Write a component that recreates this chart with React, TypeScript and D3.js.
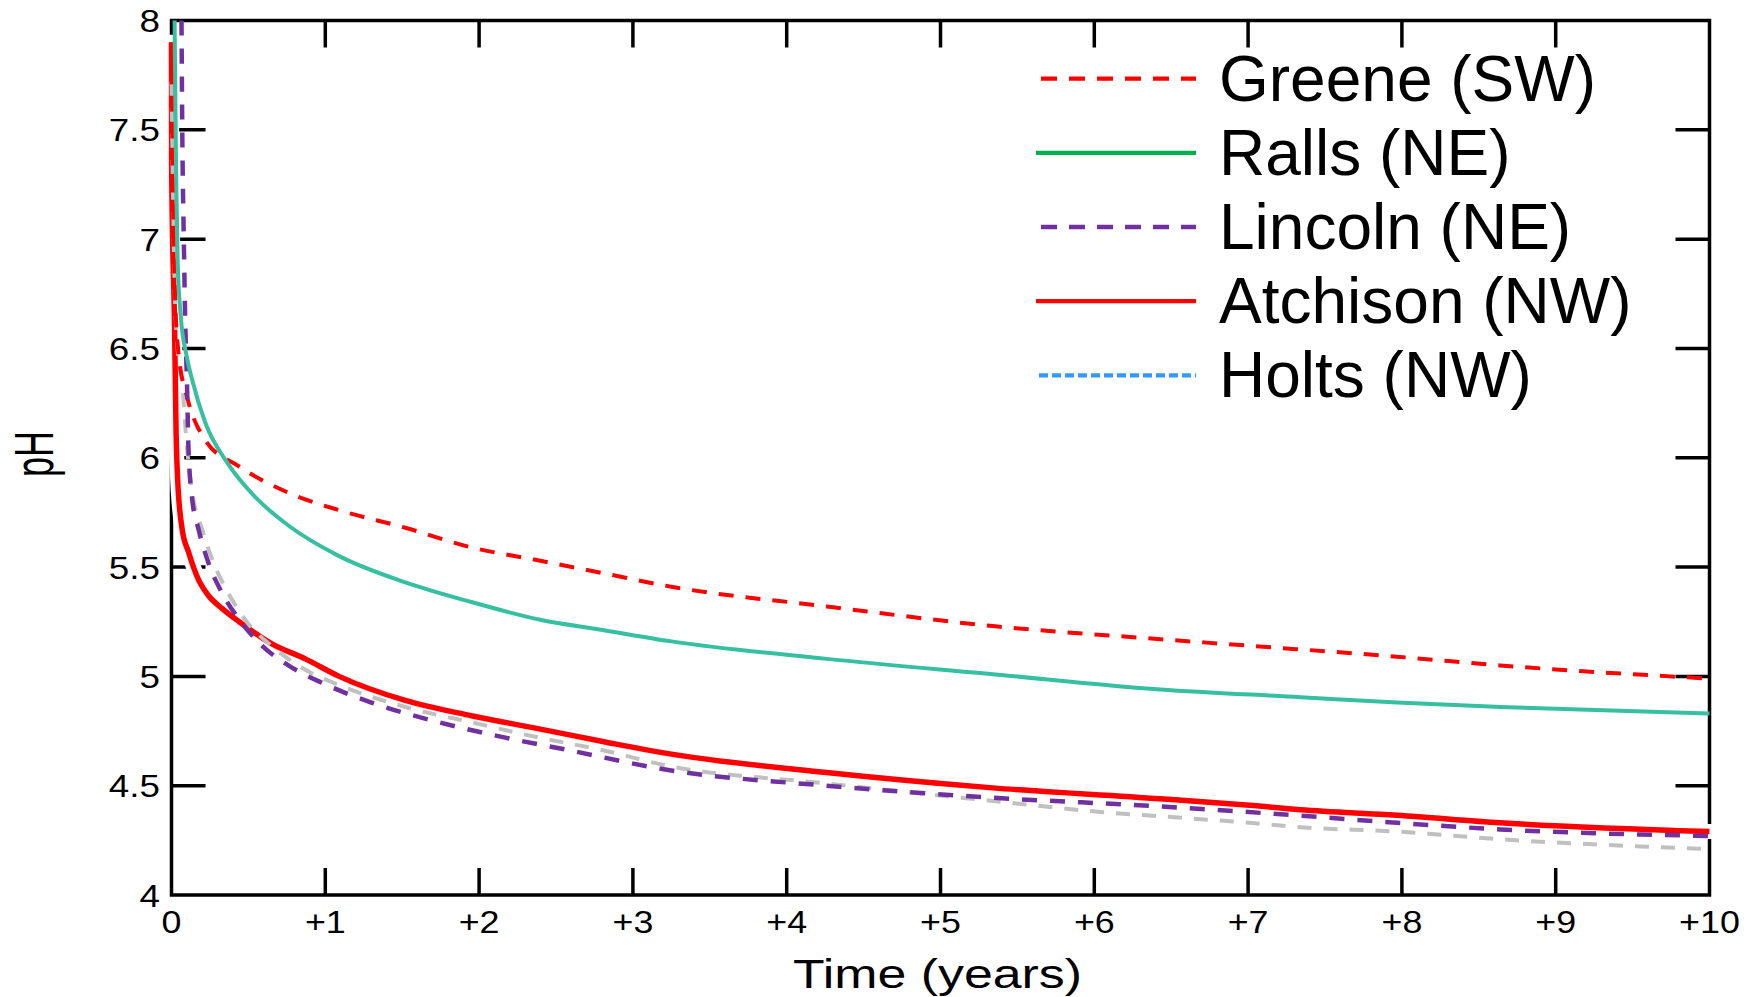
import * as d3 from "d3";

type Pt = [number, number];

// pH readings per county, [years, pH]
const greene: Pt[] = [
  [0, 7.9], [0.01, 7.2], [0.025, 6.7], [0.05, 6.45], [0.09, 6.31], [0.22, 6.08],
  [0.44, 5.96], [0.76, 5.84], [1.09, 5.76], [1.52, 5.68], [1.95, 5.59], [2.39, 5.53],
  [2.82, 5.47], [3.25, 5.41], [4.26, 5.32], [5.34, 5.23], [6.43, 5.17], [7.01, 5.14],
  [7.97, 5.09], [8.64, 5.05], [10, 4.99],
];

const ralls: Pt[] = [
  [0.02, 8.0], [0.03, 7.3], [0.04, 6.9], [0.06, 6.65], [0.1, 6.46], [0.133, 6.36],
  [0.22, 6.16], [0.37, 5.97], [0.545, 5.82], [0.76, 5.69], [1.09, 5.55], [1.52, 5.43],
  [1.95, 5.34], [2.39, 5.26], [2.82, 5.21], [3.25, 5.16], [4.26, 5.08], [5.34, 5.01],
  [6.43, 4.94], [7.34, 4.905], [7.97, 4.88], [8.64, 4.86], [10, 4.83],
];

const lincoln: Pt[] = [
  [0.065, 8.0], [0.07, 7.5], [0.08, 7.0], [0.09, 6.6], [0.1, 6.36], [0.11, 6.05],
  [0.133, 5.82], [0.177, 5.67], [0.24, 5.52], [0.33, 5.38], [0.44, 5.26], [0.59, 5.14],
  [0.76, 5.05], [0.98, 4.97], [1.3, 4.88], [1.74, 4.79], [2.17, 4.72], [2.6, 4.66],
  [3.2, 4.575], [4.26, 4.5], [5.34, 4.445], [6.43, 4.405], [7.4, 4.36], [7.97, 4.33],
  [8.64, 4.3], [10, 4.27],
];

const atchison: Pt[] = [
  [0, 7.9], [0.001, 7.32], [0.02, 6.6], [0.03, 6.11], [0.04, 5.9], [0.07, 5.67],
  [0.11, 5.57], [0.177, 5.44], [0.24, 5.37], [0.33, 5.31], [0.44, 5.25], [0.65, 5.15],
  [0.87, 5.08], [1.09, 5.0], [1.52, 4.89], [1.95, 4.82], [2.39, 4.76], [2.82, 4.7],
  [3.2, 4.65], [4.26, 4.56], [5.34, 4.49], [6.43, 4.44], [7.01, 4.41],
  [7.34, 4.39], [7.97, 4.365], [8.64, 4.33], [10, 4.29],
];

// grey dashed curve drawn in the plot (no legend entry)
const greyCurve: Pt[] = [
  [0, 7.72], [0.01, 7.2], [0.02, 6.8], [0.04, 6.5], [0.068, 6.355], [0.1, 6.05],
  [0.133, 5.85], [0.2, 5.67], [0.285, 5.5], [0.37, 5.38], [0.5, 5.24], [0.65, 5.14],
  [0.87, 5.03], [1.09, 4.96], [1.52, 4.86], [1.95, 4.79], [2.39, 4.72], [2.82, 4.66],
  [3.2, 4.595], [4.26, 4.51], [5.34, 4.43], [6.04, 4.38], [6.43, 4.36], [7.01, 4.33],
  [7.34, 4.31], [7.97, 4.29], [8.64, 4.255], [10, 4.21],
];

const xTickValues = [0, 1, 2, 3, 4, 5, 6, 7, 8, 9, 10];
const xTickLabels = ["0", "+1", "+2", "+3", "+4", "+5", "+6", "+7", "+8", "+9", "+10"];
const yTickValues = [4, 4.5, 5, 5.5, 6, 6.5, 7, 7.5, 8];
const yTickLabels = ["4", "4.5", "5", "5.5", "6", "6.5", "7", "7.5", "8"];

const legendNames = ["Greene (SW)", "Ralls (NE)", "Lincoln (NE)", "Atchison (NW)", "Holts (NW)"];
const legendColors = ["#ff0000", "#00b050", "#7030a0", "#ff0000", "#3399ff"];
const legendDashes = ["16 12", null, "16 12", null, "9 4"];

const W = 1756;
const H = 997;
const box = { left: 171.5, right: 1709.5, top: 20.5, bottom: 895 };
const FONT = "'Liberation Sans', Arial, sans-serif";

export default function App() {
  const x = d3.scaleLinear().domain([0, 10]).range([box.left, box.right]);
  const y = d3.scaleLinear().domain([4, 8]).range([box.bottom, box.top]);

  const smooth = d3.line<Pt>().x((d) => x(d[0])).y((d) => y(d[1])).curve(d3.curveMonotoneX);

  // order = drawing order (atchison sits under the others)
  const series = [
    { key: "atchison", d: smooth(atchison), color: "#ff0000", width: 5.5, dash: undefined },
    { key: "grey", d: smooth(greyCurve), color: "#c0c0c0", width: 4, dash: "14 12" },
    { key: "greene", d: smooth(greene), color: "#ff0000", width: 4, dash: "15 12" },
    { key: "lincoln", d: smooth(lincoln), color: "#7030a0", width: 4.5, dash: "15 13" },
    { key: "ralls", d: smooth(ralls), color: "#36bfa0", width: 4, dash: undefined },
  ];

  const innerTicksX = xTickValues.slice(1, -1);
  const innerTicksY = yTickValues.slice(1, -1);

  return (
    <div>
      <style>{"body{margin:0;background:#fff}"}</style>
      <svg width={W} height={H} style={{ display: "block" }} fontFamily={FONT}>
        <rect width={W} height={H} fill="#fff" />

        {/* frame */}
        <rect
          x={box.left}
          y={box.top}
          width={box.right - box.left}
          height={box.bottom - box.top}
          fill="none"
          stroke="#000"
          strokeWidth={3.5}
        />
        {innerTicksX.map((v) => (
          <g key={"xt" + v} stroke="#000" strokeWidth={3.5}>
            <line x1={x(v)} x2={x(v)} y1={box.bottom} y2={box.bottom - 27} />
            <line x1={x(v)} x2={x(v)} y1={box.top} y2={box.top + 27} />
          </g>
        ))}
        {innerTicksY.map((v) => (
          <g key={"yt" + v} stroke="#000" strokeWidth={3.5}>
            <line x1={box.left} x2={box.left + 34} y1={y(v)} y2={y(v)} />
            <line x1={box.right} x2={box.right - 34} y1={y(v)} y2={y(v)} />
          </g>
        ))}

        {/* tick labels */}
        {yTickValues.map((v, i) => (
          <text
            key={"yl" + v}
            transform={`translate(160,${y(v) + 11.5}) scale(1.15,1)`}
            textAnchor="end"
            fontSize={32}
            fill="#000"
          >
            {yTickLabels[i]}
          </text>
        ))}
        {xTickValues.map((v, i) => (
          <text
            key={"xl" + v}
            transform={`translate(${x(v)},933) scale(1.12,1)`}
            textAnchor="middle"
            fontSize={32}
            fill="#000"
          >
            {xTickLabels[i]}
          </text>
        ))}

        {/* axis titles */}
        <text
          x={937.5}
          y={988}
          textAnchor="middle"
          fontSize={40}
          textLength={289}
          lengthAdjust="spacingAndGlyphs"
        >
          Time (years)
        </text>
        <text
          transform="translate(53,454) rotate(-90)"
          textAnchor="middle"
          fontSize={56}
          textLength={46}
          lengthAdjust="spacingAndGlyphs"
        >
          pH
        </text>

        {/* curves */}
        <path
          d={series[0].d || ""}
          fill="none"
          stroke="#fff"
          strokeWidth={15}
          strokeLinecap="square"
        />
        {series.map((s) => (
          <path
            key={s.key}
            d={s.d || ""}
            fill="none"
            stroke={s.color}
            strokeWidth={s.width}
            strokeDasharray={s.dash}
          />
        ))}

        {/* legend */}
        {legendNames.map((name, i) => {
          const ly = 78.6 + i * 74.2;
          return (
            <g key={name}>
              <line
                x1={1036}
                x2={1196}
                y1={ly}
                y2={ly}
                stroke={legendColors[i]}
                strokeWidth={4.3}
                strokeDasharray={legendDashes[i] || undefined}
                strokeDashoffset={legendDashes[i] ? 23 : undefined}
              />
              <text x={1219} y={ly + 22} fontSize={64} fill="#000">
                {name}
              </text>
            </g>
          );
        })}
      </svg>
    </div>
  );
}
